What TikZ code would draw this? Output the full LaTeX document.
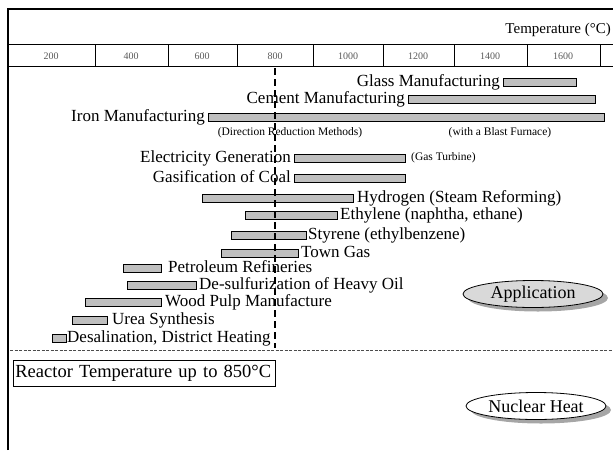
\documentclass[tikz,border=0pt]{standalone}
\usepackage{fontspec}
\setmainfont{Liberation Serif}
\usetikzlibrary{positioning, shapes.geometric}
\tikzset{
   heatbar/.style={draw, line width=.8pt, fill=gray!50, inner sep=0pt, outer sep=0pt, minimum height=8pt},
   applbl/.style={font=\fontsize{17}{19}\selectfont, inner sep=0pt, text height=11pt, text depth=3pt},
   notelbl/.style={font=\fontsize{11.5}{13}\selectfont, inner sep=0pt},
   ticklbl/.style={font=\fontsize{10}{12}\selectfont, text=black!65},
   axisline/.style={line width=.8pt},
   limitline/.style={line width=2.2pt, dash pattern=on 7pt off 4pt},
   zoneline/.style={gray!60!black, line width=1pt, dash pattern=on 3pt off 1.5pt},
   reactorbox/.style={draw, line width=.8pt, inner xsep=2pt, minimum height=26pt, text width=258pt, align=left, font=\fontsize{18.5}{21}\selectfont},
   ovalshape/.style={ellipse, minimum width=140pt, minimum height=27pt, inner sep=0pt},
   heatoval/.style={ovalshape, draw, line width=.8pt, font=\fontsize{18}{20}\selectfont},
   ovalshadow/.style={ovalshape, fill=gray!70}
}
% bar from #2 to #3 (in px) at height #4
\newcommand{\heatbar}[4]{%
  \pgfmathsetmacro{\barw}{#3-#2}%
  \node[heatbar, minimum width=\barw pt] (#1) at ({(#2+#3)/2},#4) {};}

\begin{document}
\begin{tikzpicture}[x=1pt, y=-1pt]
   \useasboundingbox (0,0) rectangle (613,450);
   % frame and temperature scale
   \draw[line width=1.2pt] (8,450) -- (8,9) -- (613,9);
   \draw[axisline] (8,44) -- (613,44);
   \draw[axisline] (8,66) -- (613,66);
   \foreach \x in {95,168,237,313,383,454,527,600}
      \draw[axisline] (\x,44) -- (\x,66);
   \foreach \t/\x in {200/51,400/131,600/202,800/275,1000/348,1200/418,1400/490,1600/563}
      \node[ticklbl] (tick\t) at (\x,56) {\t};
   \node[font=\fontsize{15}{17}\selectfont, anchor=east, inner sep=0pt] (templbl) at (611,30) {Temperature (°C)};

   % applications
   \heatbar{glass}{503}{576}{82}
   \node[applbl, left=3pt of glass] (glasslbl) {Glass Manufacturing};
   \heatbar{cement}{408}{595}{99}
   \node[applbl, left=3pt of cement] (cementlbl) {Cement Manufacturing};
   \heatbar{iron}{208}{604}{117}
   \node[applbl, left=3pt of iron] (ironlbl) {Iron Manufacturing};
   \node[notelbl] (directlbl) at (290,133) {(Direction Reduction Methods)};
   \node[notelbl] (blastlbl) at (500,133) {(with a Blast Furnace)};
   \heatbar{elec}{294}{405}{158}
   \node[applbl, left=3pt of elec] (eleclbl) {Electricity Generation};
   \node[notelbl, right=6pt of elec] (turbinelbl) {(Gas Turbine)};
   \heatbar{coal}{294}{405}{178}
   \node[applbl, left=3pt of coal] (coallbl) {Gasification of Coal};
   \heatbar{hydro}{202}{353}{198}
   \node[applbl, right=4pt of hydro] (hydrolbl) {Hydrogen (Steam Reforming)};
   \heatbar{ethyl}{245}{337}{215}
   \node[applbl, right=3pt of ethyl] (ethyllbl) {Ethylene (naphtha, ethane)};
   \heatbar{styr}{231}{306}{235}
   \node[applbl, right=2pt of styr] (styrlbl) {Styrene (ethylbenzene)};
   \heatbar{town}{221}{298}{253}
   \node[applbl, right=3pt of town] (townlbl) {Town Gas};
   \heatbar{petro}{123}{161}{268}
   \node[applbl, right=7pt of petro] (petrolbl) {Petroleum Refineries};
   \heatbar{desulf}{127}{196}{285}
   \node[applbl, right=3pt of desulf] (desulflbl) {De-sulfurization of Heavy Oil};
   \heatbar{wood}{85}{161}{302}
   \node[applbl, right=4pt of wood] (woodlbl) {Wood Pulp Manufacture};
   \heatbar{urea}{72}{107}{320}
   \node[applbl, right=5pt of urea] (urealbl) {Urea Synthesis};
   \heatbar{desal}{52}{66}{338}
   \node[applbl, right=1pt of desal] (desallbl) {Desalination, District Heating};

   % reactor limit
   \coordinate (limtop) at (275,68);
   \coordinate (limbot) at (275,348);
   \draw[limitline] (limtop) -- (limbot);
   \coordinate (zoneleft) at (10,350);
   \coordinate (zoneright) at (613,350);
   \draw[zoneline] (zoneleft) -- (zoneright);
   \node[reactorbox, anchor=north west] (reactor) at (13,360) {Reactor Temperature up to 850°C};

   % legend ovals
   \node[ovalshadow] (appshadow) at (538,298) {};
   \node[heatoval, fill=gray!30] (appoval) at (533,294) {Application};
   \node[ovalshadow] (nucshadow) at (541,410) {};
   \node[heatoval, fill=white] (nucoval) at (536,406) {Nuclear Heat};
\end{tikzpicture}
\end{document}
